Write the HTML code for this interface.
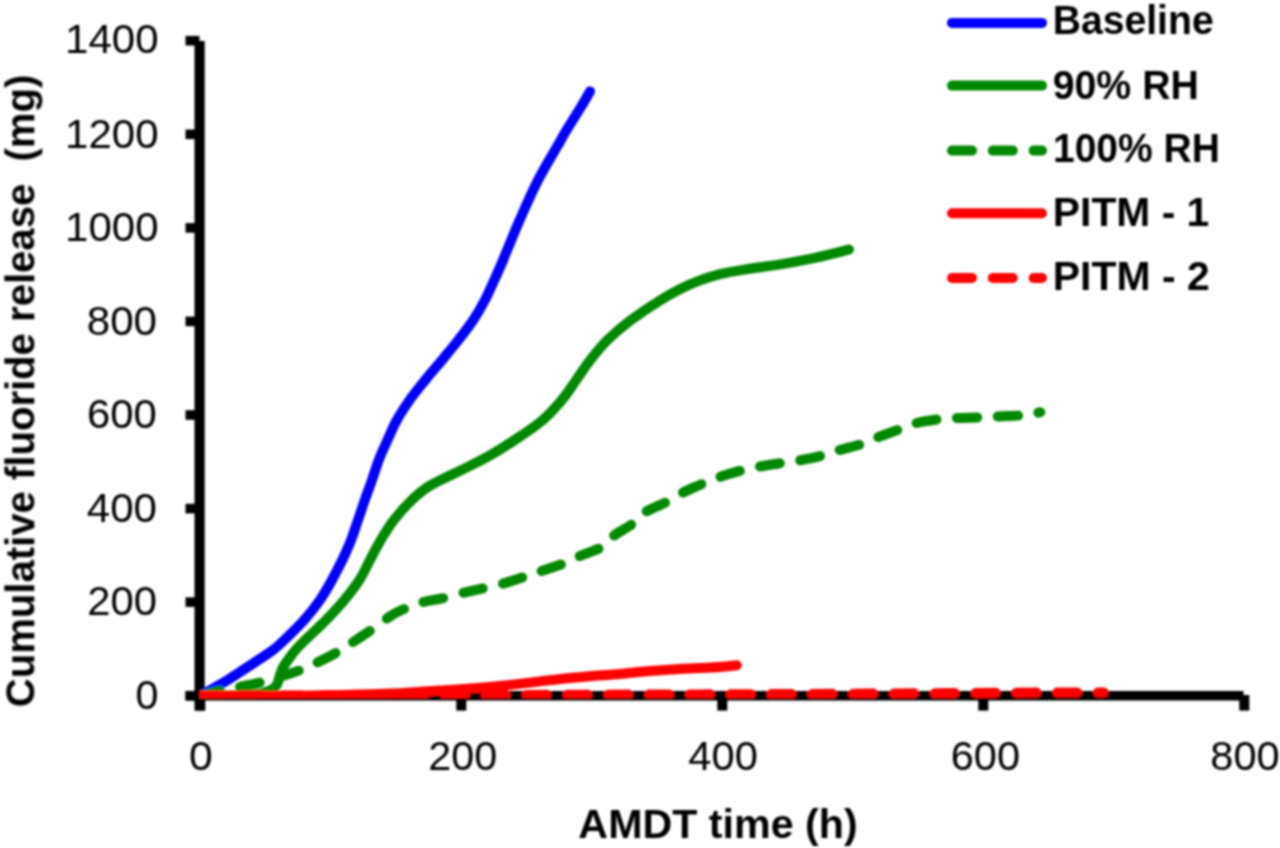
<!DOCTYPE html>
<html><head><meta charset="utf-8"><style>
html,body{margin:0;padding:0;background:#fff;}
svg{display:block;}
text{font-family:"Liberation Sans",sans-serif;fill:#000;}
.tick{font-size:40px;}
.leg{font-size:38.5px;font-weight:bold;}
.title{font-size:40px;font-weight:bold;}
</style></head><body>
<svg width="1280" height="848" viewBox="0 0 1280 848">
<rect width="1280" height="848" fill="#fff"/>
<defs><filter id="bl" x="-1%" y="-1%" width="102%" height="102%"><feGaussianBlur stdDeviation="0.8"/></filter><clipPath id="pa"><rect x="199.7" y="0" width="1080" height="698.2"/></clipPath></defs>
<g filter="url(#bl)">
<!-- axes -->
<rect x="194.5" y="41" width="10.2" height="669.6" fill="#000"/>
<rect x="185.5" y="691" width="1058" height="9.5" fill="#000"/>
<rect x="185.5" y="690.9" width="14" height="9.6" fill="#000"/>
<rect x="185.5" y="597.3" width="14" height="9.6" fill="#000"/>
<rect x="185.5" y="503.8" width="14" height="9.6" fill="#000"/>
<rect x="185.5" y="410.2" width="14" height="9.6" fill="#000"/>
<rect x="185.5" y="316.6" width="14" height="9.6" fill="#000"/>
<rect x="185.5" y="223.1" width="14" height="9.6" fill="#000"/>
<rect x="185.5" y="129.5" width="14" height="9.6" fill="#000"/>
<rect x="185.5" y="35.9" width="14" height="9.6" fill="#000"/>
<rect x="195.3" y="695" width="10" height="15.6" fill="#000"/>
<rect x="456.3" y="695" width="10" height="15.6" fill="#000"/>
<rect x="717.3" y="695" width="10" height="15.6" fill="#000"/>
<rect x="978.3" y="695" width="10" height="15.6" fill="#000"/>
<rect x="1239.3" y="695" width="10" height="15.6" fill="#000"/>

<g clip-path="url(#pa)" fill="none" stroke-width="10.0" stroke-linecap="round" stroke-linejoin="round">
<path d="M200.3,695.7 C202.6,694.4 209.4,690.6 214.0,688.0 C218.6,685.4 223.4,682.7 227.7,680.0 C232.0,677.3 234.9,675.3 240.0,672.0 C245.1,668.7 252.8,663.7 258.3,660.0 C263.8,656.3 268.8,653.3 273.1,650.0 C277.4,646.7 279.1,645.0 284.3,640.0 C289.5,635.0 298.2,626.7 304.2,620.0 C310.1,613.3 315.4,606.7 320.0,600.0 C324.6,593.3 328.3,586.7 332.0,580.0 C335.7,573.3 339.1,566.7 342.3,560.0 C345.5,553.3 348.5,546.7 351.1,540.0 C353.7,533.3 355.7,526.7 358.0,520.0 C360.3,513.3 362.5,506.7 364.8,500.0 C367.1,493.3 369.7,486.7 372.0,480.0 C374.3,473.3 376.2,466.7 378.8,460.0 C381.3,453.3 384.5,446.7 387.5,440.0 C390.5,433.3 393.2,426.7 396.9,420.0 C400.6,413.3 405.0,406.7 409.7,400.0 C414.4,393.3 419.9,386.7 425.3,380.0 C430.7,373.3 436.6,366.7 442.1,360.0 C447.6,353.3 453.2,346.7 458.4,340.0 C463.6,333.3 468.9,326.7 473.3,320.0 C477.7,313.3 481.5,306.7 485.0,300.0 C488.5,293.3 491.3,286.7 494.3,280.0 C497.3,273.3 498.9,270.0 503.1,260.0 C507.3,250.0 513.9,233.3 519.7,220.0 C525.5,206.7 531.2,193.3 538.1,180.0 C545.0,166.7 556.1,148.4 560.9,140.0 C565.7,131.6 563.8,134.6 567.0,129.3 C570.2,124.0 576.5,114.3 580.3,108.0 C584.1,101.7 588.4,94.2 590.0,91.4" stroke="#0000ff"/>
<path d="M200.3,695.7 C206.9,695.6 230.4,695.6 240.0,695.3 C249.6,695.0 253.5,694.6 258.0,694.0 C262.5,693.4 264.4,692.4 267.0,691.5 C269.6,690.6 271.8,689.8 273.5,688.5 C275.2,687.2 276.4,685.8 277.3,684.0 C278.2,682.2 278.6,680.0 279.2,678.0 C279.8,676.0 280.3,673.9 281.0,672.0 C281.7,670.1 282.3,668.5 283.5,666.5 C284.7,664.5 286.0,662.8 288.0,660.0 C290.0,657.2 292.7,653.3 295.6,650.0 C298.5,646.7 300.1,645.0 305.2,640.0 C310.3,635.0 319.6,626.7 326.1,620.0 C332.6,613.3 338.8,606.7 344.4,600.0 C349.9,593.3 355.1,586.7 359.4,580.0 C363.7,573.3 366.4,566.7 370.0,560.0 C373.6,553.3 376.8,546.7 380.8,540.0 C384.8,533.3 388.8,526.7 393.9,520.0 C399.0,513.3 405.7,505.7 411.7,500.0 C417.7,494.3 421.9,490.5 430.0,485.6 C438.1,480.7 450.0,475.8 460.0,470.8 C470.0,465.8 480.0,461.1 490.0,455.4 C500.0,449.7 511.2,442.4 520.0,436.5 C528.8,430.6 535.8,426.1 542.8,420.0 C549.8,413.9 556.3,406.7 561.9,400.0 C567.5,393.3 571.5,386.7 576.2,380.0 C581.0,373.3 585.1,366.7 590.3,360.0 C595.5,353.3 600.9,346.5 607.5,340.0 C614.1,333.5 621.2,327.4 630.0,320.8 C638.8,314.2 650.0,306.5 660.0,300.4 C670.0,294.3 680.0,288.8 690.0,284.4 C700.0,280.0 710.0,276.8 720.0,274.2 C730.0,271.6 740.0,270.3 750.0,268.7 C760.0,267.1 770.0,266.0 780.0,264.4 C790.0,262.8 800.0,261.0 810.0,258.9 C820.0,256.8 833.5,253.4 840.0,251.8 C846.5,250.2 847.5,249.9 849.0,249.5" stroke="#008800"/>
<path d="M200.3,695.7 C203.6,694.8 213.5,692.0 220.0,690.5 C226.5,689.0 233.1,688.3 239.5,687.0 C245.9,685.7 251.9,684.6 258.5,682.9 C265.1,681.2 272.3,679.0 279.0,677.0 C285.7,675.0 292.2,673.1 298.5,670.7 C304.8,668.3 310.6,665.6 316.9,662.6 C323.2,659.6 330.3,656.1 336.2,652.7 C342.1,649.4 346.4,646.4 352.4,642.5 C358.4,638.6 365.8,633.8 372.2,629.3 C378.6,624.8 385.7,619.1 391.0,615.7 C396.3,612.3 398.8,611.2 404.0,609.0 C409.2,606.8 415.5,604.2 422.3,602.3 C429.1,600.4 437.2,599.5 444.7,597.8 C452.2,596.0 460.6,593.4 467.1,591.8 C473.7,590.2 478.1,589.5 484.0,588.2 C489.9,586.9 495.9,585.7 502.5,583.8 C509.1,581.9 517.5,579.0 523.7,577.0 C530.0,575.0 533.4,573.9 540.0,571.6 C546.6,569.4 557.0,566.1 563.6,563.5 C570.2,560.9 573.3,558.8 579.5,556.1 C585.7,553.5 595.0,551.0 600.8,547.6 C606.5,544.2 608.7,539.6 614.0,535.6 C619.3,531.6 627.3,527.7 632.6,523.7 C637.9,519.7 640.4,515.3 646.0,511.7 C651.6,508.1 660.3,505.2 666.5,502.0 C672.7,498.8 676.9,495.6 683.1,492.5 C689.4,489.4 697.7,485.8 704.0,483.1 C710.3,480.5 714.5,478.7 720.8,476.6 C727.0,474.5 735.0,472.2 741.5,470.5 C748.0,468.8 753.5,467.7 760.0,466.5 C766.5,465.3 774.0,464.2 780.5,463.2 C787.0,462.2 792.2,461.8 799.0,460.5 C805.8,459.2 814.8,457.4 821.5,455.7 C828.2,454.0 832.3,452.1 839.2,450.1 C846.1,448.1 856.5,445.8 863.0,443.6 C869.5,441.4 872.4,439.4 878.4,437.0 C884.4,434.6 892.7,431.8 899.0,429.5 C905.3,427.2 909.5,424.8 916.2,423.1 C922.9,421.4 932.6,420.1 939.2,419.2 C945.8,418.3 949.0,418.3 956.0,418.0 C963.0,417.7 974.5,417.6 981.3,417.3 C988.1,417.1 990.0,416.8 996.6,416.5 C1003.2,416.2 1015.0,415.8 1020.6,415.5 C1026.2,415.2 1026.7,415.1 1030.0,414.5 C1033.3,413.9 1038.6,412.6 1040.3,412.2" stroke="#008800" stroke-dasharray="20 20.8"/>
<path d="M200.3,695.7 C216.9,695.7 271.7,695.9 300.0,695.7 C328.3,695.5 353.3,694.7 370.0,694.3 C386.7,693.9 388.3,693.8 400.0,693.2 C411.7,692.6 427.1,691.5 440.0,690.6 C452.9,689.7 465.0,689.0 477.5,688.0 C490.0,687.0 501.2,685.9 515.0,684.4 C528.8,682.9 547.5,680.4 560.0,679.0 C572.5,677.6 580.0,677.1 590.0,676.2 C600.0,675.4 610.0,674.8 620.0,673.9 C630.0,673.0 640.0,671.9 650.0,671.1 C660.0,670.3 670.0,669.6 680.0,669.0 C690.0,668.4 700.5,668.2 710.0,667.6 C719.5,667.0 732.3,665.7 736.8,665.3" stroke="#ff0000"/>
<path d="M200.3,695.7 C233.6,695.6 333.4,695.5 400.0,695.3 C466.6,695.1 533.3,694.9 600.0,694.7 C666.7,694.5 733.3,694.3 800.0,694.0 C866.7,693.7 949.4,693.1 1000.0,692.8 C1050.6,692.5 1086.2,692.5 1103.5,692.4" stroke="#ff0000" stroke-dasharray="20 20.8"/>
</g>
<text transform="translate(135.45,708.79) scale(1.0214,1)" font-size="40.40" xml:space="preserve">0</text>
<text transform="translate(87.31,615.29) scale(1.0340,1)" font-size="40.40" xml:space="preserve">200</text>
<text transform="translate(86.75,521.79) scale(1.0425,1)" font-size="40.40" xml:space="preserve">400</text>
<text transform="translate(86.91,428.44) scale(1.0371,1)" font-size="40.40" xml:space="preserve">600</text>
<text transform="translate(86.70,335.09) scale(1.0432,1)" font-size="40.40" xml:space="preserve">800</text>
<text transform="translate(65.05,241.44) scale(1.0405,1)" font-size="40.40" xml:space="preserve">1000</text>
<text transform="translate(65.05,147.79) scale(1.0405,1)" font-size="40.40" xml:space="preserve">1200</text>
<text transform="translate(65.05,52.59) scale(1.0405,1)" font-size="40.40" xml:space="preserve">1400</text>

<text transform="translate(189.09,770.29) scale(1.0578,1)" font-size="40.40" xml:space="preserve">0</text>
<text transform="translate(428.23,770.29) scale(1.0230,1)" font-size="40.40" xml:space="preserve">200</text>
<text transform="translate(688.36,770.29) scale(1.0310,1)" font-size="40.40" xml:space="preserve">400</text>
<text transform="translate(950.72,770.29) scale(1.0277,1)" font-size="40.40" xml:space="preserve">600</text>
<text transform="translate(1210.33,770.29) scale(1.0291,1)" font-size="40.40" xml:space="preserve">800</text>

<text transform="translate(578.37,838.10) scale(1.0123,1)" font-size="40.72" font-weight="bold" xml:space="preserve">AMDT time (h)</text>
<text transform="translate(34.29,707.20) rotate(-90) scale(0.9680,1)" font-size="41.41" font-weight="bold" xml:space="preserve">Cumulative fluoride release&#160; (mg)</text>

<line x1="952.0" y1="22.9" x2="1042.0" y2="22.9" stroke="#0000ff" stroke-width="10.0" stroke-linecap="round"/>
<text transform="translate(1052.66,34.20) scale(0.9480,1)" font-size="41.30" font-weight="bold" xml:space="preserve">Baseline</text>
<line x1="952.0" y1="85.6" x2="1042.0" y2="85.6" stroke="#008800" stroke-width="10.0" stroke-linecap="round"/>
<text transform="translate(1052.73,98.50) scale(0.9504,1)" font-size="41.30" font-weight="bold" xml:space="preserve">90% RH</text>
<line x1="952.0" y1="150.6" x2="1042.0" y2="150.6" stroke="#008800" stroke-width="10.0" stroke-linecap="round" stroke-dasharray="20 20.8"/>
<text transform="translate(1052.96,162.30) scale(0.9451,1)" font-size="41.30" font-weight="bold" xml:space="preserve">100% RH</text>
<line x1="952.0" y1="213.3" x2="1042.0" y2="213.3" stroke="#ff0000" stroke-width="10.0" stroke-linecap="round"/>
<text transform="translate(1052.85,225.90) scale(0.9879,1)" font-size="41.30" font-weight="bold" xml:space="preserve">PITM - 1</text>
<line x1="952.0" y1="278.0" x2="1042.0" y2="278.0" stroke="#ff0000" stroke-width="10.0" stroke-linecap="round" stroke-dasharray="20 20.8"/>
<text transform="translate(1052.84,289.50) scale(0.9906,1)" font-size="41.30" font-weight="bold" xml:space="preserve">PITM - 2</text>

</g>
</svg>
</body></html>
